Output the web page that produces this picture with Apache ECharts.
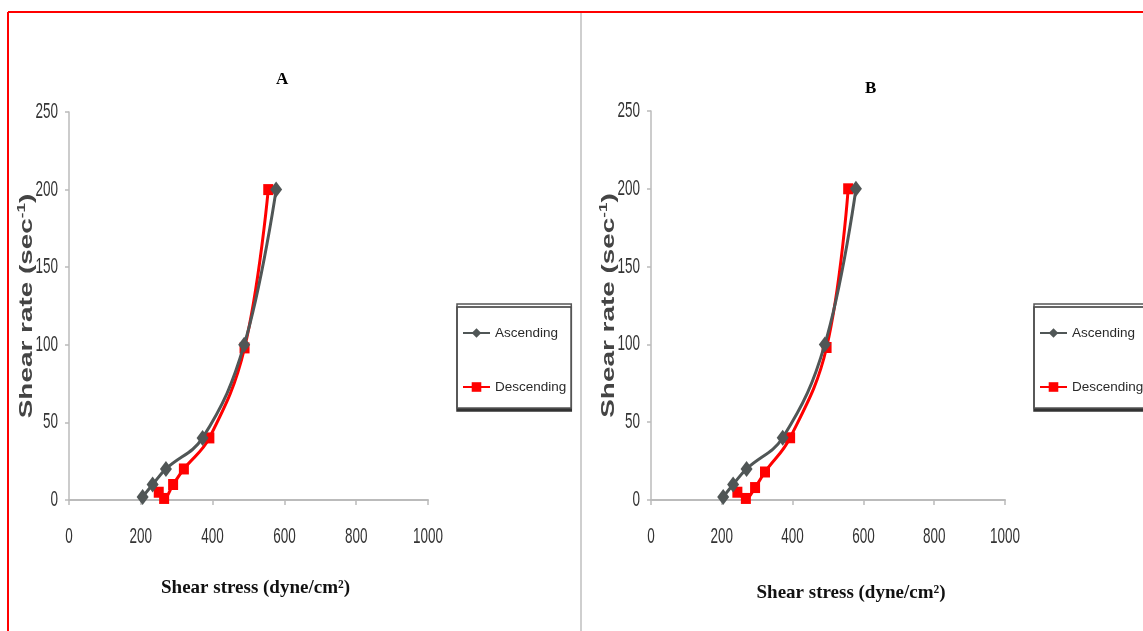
<!DOCTYPE html>
<html><head><meta charset="utf-8">
<script src="https://cdn.jsdelivr.net/npm/echarts@6/dist/echarts.min.js"></script>
<style>html,body{margin:0;padding:0;background:#fff}#c{width:1143px;height:631px}</style>
</head><body><div id="c"></div>
<script>
// Data: [shear stress, shear rate]
const ascA = [[205,2],[233,10],[270,20],[372,40],[488,100],[577,200]];
const descA = [[250,5],[265,1],[290,10],[320,20],[391,40],[489,98],[555,200]];
const ascB = [[204,2],[232,10],[270,20],[372,40],[491,100],[579,200]];
const descB = [[244,5],[268,1],[294,8],[322,18],[393,40],[496,98],[557,200]];
const xTicks = [0,200,400,600,800,1000];
const yTicks = [0,50,100,150,200,250];
const titles = ['A','B'];
const seriesNames = ['Ascending','Descending'];
const xName = 'Shear stress (dyne/cm²)';
const yNameParts = ['Shear rate (sec', '-1', ')'];

const chart = echarts.init(document.getElementById('c'));
const gray = '#505656', red = '#ff0000';

function xAxis(idx, nameShift, gap){
  return {type:'value', gridIndex:idx, min:xTicks[0], max:xTicks[xTicks.length-1], interval:200,
    name:xName, nameLocation:'middle', nameGap:gap,
    nameTextStyle:{fontFamily:'Liberation Serif, Times New Roman, serif', fontWeight:'bold', fontSize:19, color:'#111', padding:[0,0,0,nameShift]},
    axisLine:{show:true, onZero:false, lineStyle:{color:'#bbb', width:2}},
    axisTick:{show:true, length:5, lineStyle:{color:'#bbb', width:1.5}},
    axisLabel:{show:false},
    splitLine:{show:false}};
}
function yAxis(idx){
  return {type:'value', gridIndex:idx, min:yTicks[0], max:yTicks[yTicks.length-1], interval:50,
    axisLine:{show:true, lineStyle:{color:'#bbb', width:1.5}},
    axisTick:{show:true, length:4, lineStyle:{color:'#bbb', width:1.5}},
    axisLabel:{show:false},
    splitLine:{show:false}};
}
function ser(name, data, idx){
  const isAsc = name === seriesNames[0];
  return {name, type:'line', xAxisIndex:idx, yAxisIndex:idx, data, smooth:0.4,
    symbol:isAsc?'diamond':'rect', symbolSize:isAsc?[12,16]:[10,11],
    lineStyle:{color:isAsc?gray:red, width:3},
    itemStyle:{color:isAsc?gray:red}, z:isAsc?3:2};
}
function legend(left){
  return {orient:'vertical', left, top:304, itemGap:40, itemWidth:27, itemHeight:12,
    padding:[22,5,14,5], borderColor:'#555', borderWidth:1.5, backgroundColor:'#fff',
    shadowColor:'#333', shadowOffsetY:3, shadowOffsetX:0, shadowBlur:0,
    data:seriesNames.map(n=>({name:n})),
    textStyle:{fontFamily:'Liberation Sans, Arial, sans-serif', fontSize:13.5, color:'#2a2a2a'}};
}
const titleStyle = {fontFamily:'Liberation Serif, serif', fontWeight:'bold', fontSize:17, color:'#000'};

chart.setOption({
  animation:false,
  title:[
    {text:titles[0], left:271, top:66, textStyle:titleStyle},
    {text:titles[1], left:860, top:75, textStyle:titleStyle}
  ],
  grid:[
    {left:69, top:112, width:359, height:388},
    {left:651, top:111, width:354, height:389}
  ],
  legend:[legend(457), legend(1034)],
  xAxis:[xAxis(0,14,79), xAxis(1,46,84)],
  yAxis:[yAxis(0), yAxis(1)],
  series:[ser(seriesNames[0],ascA,0), ser(seriesNames[1],descA,0), ser(seriesNames[0],ascB,1), ser(seriesNames[1],descB,1)]
});

// Tick labels and y-axis titles, placed through the axes' own scales (tall, condensed look of the original)
const g = [
  {type:'line', shape:{x1:8, y1:12, x2:1143, y2:12}, style:{stroke:'#ff0000', lineWidth:2}},
  {type:'line', shape:{x1:8, y1:12, x2:8, y2:631}, style:{stroke:'#ff0000', lineWidth:2}},
  {type:'line', shape:{x1:581, y1:13, x2:581, y2:631}, style:{stroke:'#cfcfcf', lineWidth:2}}
];
const lblFont = {fontFamily:'Liberation Sans, Arial, sans-serif', fontSize:13.5, fill:'#333'};
[0,1].forEach(idx=>{
  const finder = {xAxisIndex:idx, yAxisIndex:idx};
  xTicks.forEach(v=>{
    const p = chart.convertToPixel(finder, [v, yTicks[0]]);
    g.push({type:'text', x:p[0], y:p[1]+37, scaleY:1.6, silent:true,
      style:Object.assign({text:String(v), align:'center', verticalAlign:'middle', textAlign:'center', textVerticalAlign:'middle'}, lblFont)});
  });
  yTicks.forEach(v=>{
    const p = chart.convertToPixel(finder, [xTicks[0], v]);
    g.push({type:'text', x:p[0]-11, y:p[1], scaleY:1.6, silent:true,
      style:Object.assign({text:String(v), align:'right', verticalAlign:'middle', textAlign:'right', textVerticalAlign:'middle'}, lblFont)});
  });
  const top = chart.convertToPixel(finder, [xTicks[0], yTicks[yTicks.length-1]]);
  const bot = chart.convertToPixel(finder, [xTicks[0], yTicks[0]]);
  g.push({type:'text', x:top[0]-42, y:(top[1]+bot[1])/2, rotation:Math.PI/2, scaleX:1.55, silent:true,
    style:{text:'{a|'+yNameParts[0]+'}{s|'+yNameParts[1]+'}{a|'+yNameParts[2]+'}',
      align:'center', verticalAlign:'middle', textAlign:'center', textVerticalAlign:'middle',
      rich:{a:{fontFamily:'Liberation Sans, Arial, sans-serif', fontWeight:'bold', fontSize:18, fill:'#444', color:'#444'},
            s:{fontFamily:'Liberation Sans, Arial, sans-serif', fontWeight:'bold', fontSize:11, fill:'#444', color:'#444', padding:[0,0,10,0]}}}});
});
chart.setOption({graphic:g});
</script></body></html>
